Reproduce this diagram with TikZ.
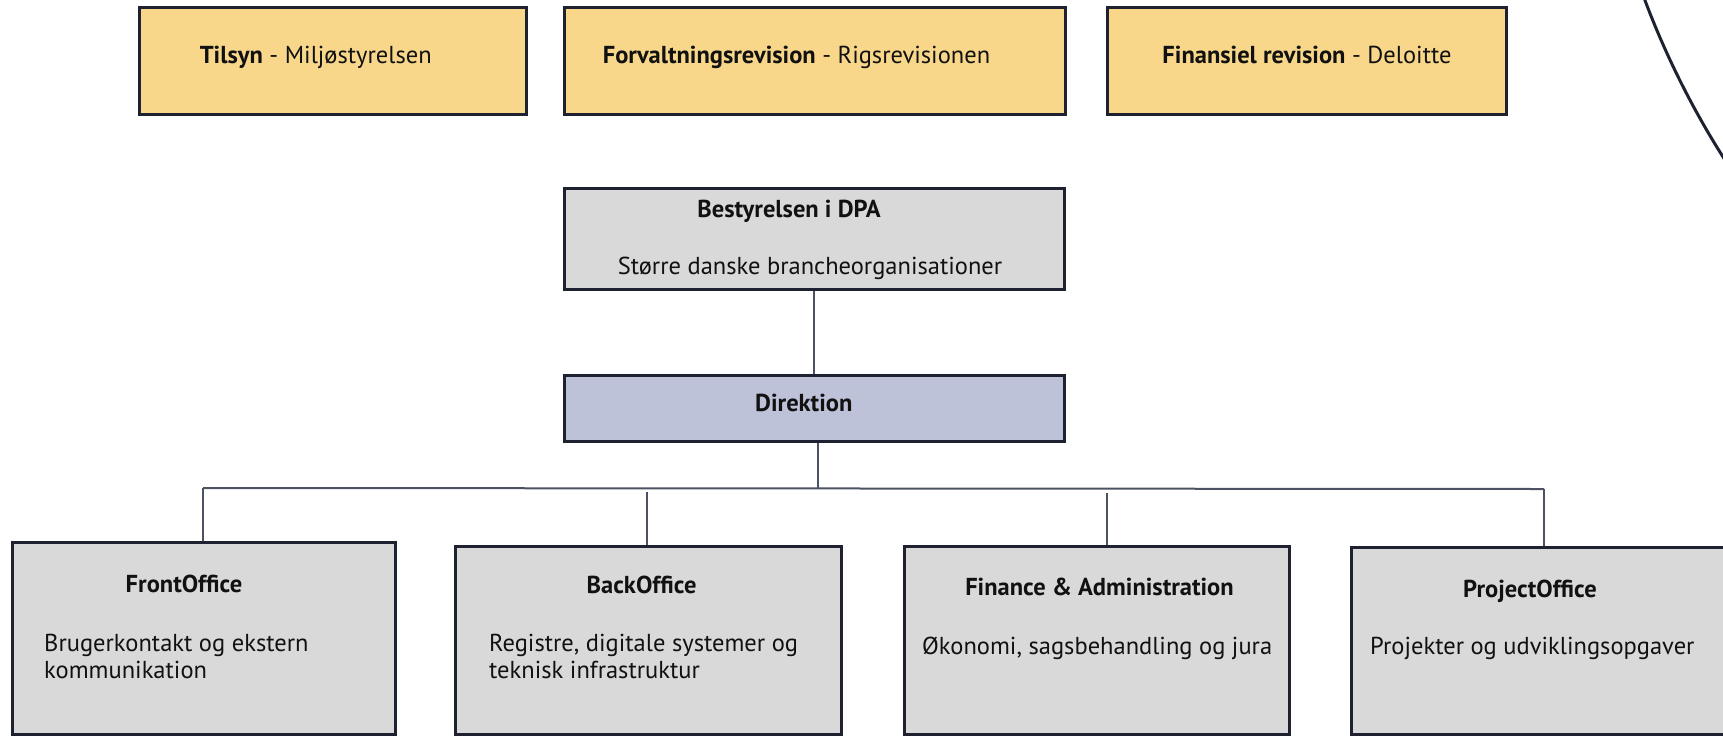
\documentclass[tikz,border=0pt]{standalone}
\usepackage{fontspec}
\setmainfont{PT Sans}
\definecolor{ylw}{HTML}{F8D78A}
\definecolor{gry}{HTML}{D9D9D9}
\definecolor{lav}{HTML}{BEC2D8}
\definecolor{edge}{HTML}{1E2230}
\definecolor{conn}{HTML}{4C5163}
\definecolor{txt}{HTML}{111111}
\tikzset{
  box/.style={draw=edge, line width=3pt, rectangle, inner sep=0pt},
  ybox/.style={box, fill=ylw},
  gbox/.style={box, fill=gry},
  lbox/.style={box, fill=lav},
  lbl/.style={inner sep=0pt, text=txt, font=\fontsize{24.5}{27.5}\selectfont},
  ttl/.style={lbl, anchor=base, font=\fontsize{24.5}{27.5}\selectfont\bfseries},
  body/.style={lbl, anchor=base west},
  cline/.style={draw=conn, line width=2pt},
}
\begin{document}
\begin{tikzpicture}[x=1pt,y=-1pt]
\useasboundingbox (0,0) rectangle (1723,737);
\begin{scope}
\clip (0,0) rectangle (1723,737);
% top yellow boxes
\node[ybox, minimum width=387pt, minimum height=107pt] (tilsyn) at (333,61) {};
\node[ybox, minimum width=501.5pt, minimum height=107pt] (forv) at (814.8,61) {};
\node[ybox, minimum width=399.5pt, minimum height=107pt] (finrev) at (1306.8,61) {};
\node[lbl, anchor=base] (tilsynT) at (315.75,63) {\textbf{Tilsyn} - Miljøstyrelsen};
\node[lbl, anchor=base] (forvT) at (796.5,63) {\textbf{Forvaltningsrevision} - Rigsrevisionen};
\node[lbl, anchor=base] (finrevT) at (1307,63) {\textbf{Finansiel revision} - Deloitte};
% board
\node[gbox, minimum width=500.5pt, minimum height=101.4pt] (best) at (814.3,239) {};
\node[ttl] (bestT) at (789,217) {Bestyrelsen i DPA};
\node[lbl, anchor=base] (bestB) at (810,274) {Større danske brancheorganisationer};
% direktion
\node[lbox, minimum width=500.5pt, minimum height=66.4pt] (dir) at (814.3,408.2) {};
\node[ttl] (dirT) at (803.8,411) {Direktion};
% bottom boxes
\node[gbox, minimum width=383pt, minimum height=192pt] (front) at (204,638.5) {};
\node[gbox, minimum width=386pt, minimum height=188pt] (back) at (648.5,640.5) {};
\node[gbox, minimum width=385pt, minimum height=188pt] (fin) at (1097,640.5) {};
\node[gbox, minimum width=448.5pt, minimum height=187pt] (proj) at (1575.75,641) {};
\node[ttl] (frontT) at (184,592) {FrontOffice};
\node[body] (frontB1) at (44,651) {Brugerkontakt og ekstern};
\node[body] (frontB2) at (44,678.5) {kommunikation};
\node[ttl] (backT) at (641.6,593) {BackOffice};
\node[body] (backB1) at (489,651) {Registre, digitale systemer og};
\node[body] (backB2) at (489,678.5) {teknisk infrastruktur};
\node[ttl] (finT) at (1099.5,595) {Finance \& Administration};
\node[body] (finB) at (922,654) {Økonomi, sagsbehandling og jura};
\node[ttl] (projT) at (1530,597) {ProjectOffice};
\node[body] (projB) at (1370,654) {Projekter og udviklingsopgaver};
% connectors
\coordinate (hl) at (203,488);
\coordinate (hr) at (1544,489);
\coordinate (dj) at (818,488);
\coordinate (bj) at (647,492);
\coordinate (fj) at (1107,493);
\draw[cline] (best.south) -- (dir.north);
\draw[cline] (dir.south -| dj) -- (dj);
\draw[cline] (hl) -- (hr);
\draw[cline] (hl) -- (hl |- front.north);
\draw[cline] (bj) -- (bj |- back.north);
\draw[cline] (fj) -- (fj |- fin.north);
\draw[cline] (hr) -- (hr |- proj.north);
% arc
\draw[draw=edge, line width=3pt] (2451,-303) circle (861pt);
\end{scope}
\end{tikzpicture}
\end{document}
